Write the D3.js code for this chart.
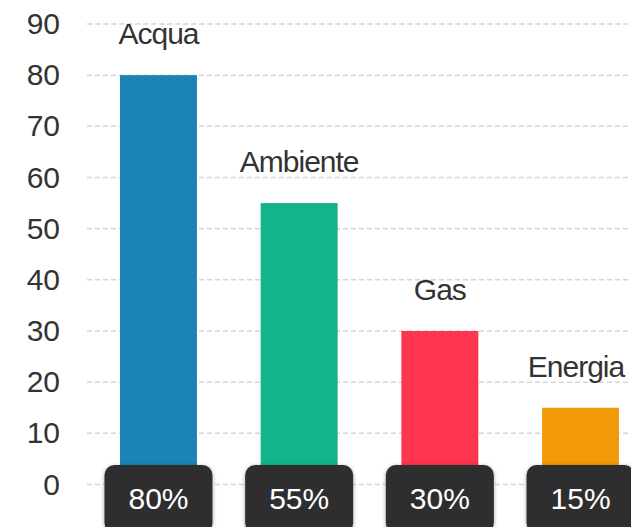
<!DOCTYPE html>
<html>
<head>
<meta charset="utf-8">
<script src="https://cdn.jsdelivr.net/npm/d3@7"></script>
<style>
  html, body { margin: 0; padding: 0; background: #fff; }
  svg { display: block; font-family: "Liberation Sans", Arial, sans-serif; }
</style>
</head>
<body>
<svg width="631" height="527"></svg>
<script>
var categories = ["Acqua", "Ambiente", "Gas", "Energia"];
var values     = [80, 55, 30, 15];
var colors     = ["#1b84b6", "#12b48e", "#ff344f", "#f39a0b"];
var yTicks     = [0, 10, 20, 30, 40, 50, 60, 70, 80, 90];

var svg    = d3.select("svg"),
    width  = 631,
    height = 527,
    x      = d3.scaleBand()
               .domain(categories)
               .range([120, 619])
               .paddingInner(0.453)
               .paddingOuter(0),
    y      = d3.scaleLinear()
               .domain([0, 90])
               .range([484.5, 24]);

var defs = svg.append("defs");
var shadow = defs.append("filter").attr("id", "shadow")
  .attr("x", "-20%").attr("y", "-20%").attr("width", "140%").attr("height", "140%");
shadow.append("feDropShadow")
  .attr("dx", 0).attr("dy", 1).attr("stdDeviation", 2)
  .attr("flood-color", "#000").attr("flood-opacity", 0.35);

// gridlines
svg.append("g")
  .selectAll("line")
  .data(yTicks)
  .enter().append("line")
    .attr("x1", 87)
    .attr("x2", width)
    .attr("y1", d => y(d))
    .attr("y2", d => y(d))
    .attr("stroke", "#d6d6d6")
    .attr("stroke-width", 1.5)
    .attr("stroke-dasharray", "5,3");

// y axis labels
var yAxis = d3.axisLeft(y).tickValues(yTicks).tickSize(0).tickPadding(0);
var gy = svg.append("g")
  .attr("transform", "translate(60,0)")
  .call(yAxis);
gy.select(".domain").remove();
gy.selectAll("text")
  .attr("fill", "#333")
  .style("font-size", "30px")
  .style("font-family", "'Liberation Sans', Arial, sans-serif");

// bars
svg.append("g")
  .selectAll("rect")
  .data(values)
  .enter().append("rect")
    .attr("x", (d, i) => x(categories[i]))
    .attr("y", d => y(d))
    .attr("width", x.bandwidth())
    .attr("height", d => y(0) - y(d))
    .attr("fill", (d, i) => colors[i]);

// category labels above bars
svg.append("g")
  .selectAll("text")
  .data(values)
  .enter().append("text")
    .attr("x", (d, i) => Math.min(x(categories[i]) + x.bandwidth() / 2, 576))
    .attr("y", d => y(d) - 31)
    .attr("text-anchor", "middle")
    .attr("fill", "#333")
    .style("font-size", "30px")
    .style("letter-spacing", "-1px")
    .text((d, i) => categories[i]);

// value badges
var badges = svg.append("g")
  .selectAll("g")
  .data(values)
  .enter().append("g")
    .attr("transform", (d, i) => "translate(" + (x(categories[i]) + x.bandwidth() / 2) + ",0)");

badges.append("rect")
  .attr("x", -54)
  .attr("y", 465)
  .attr("width", 108)
  .attr("height", 68)
  .attr("rx", 10)
  .attr("fill", "#2d2d2d")
  .attr("filter", "url(#shadow)");

badges.append("text")
  .attr("y", 508.5)
  .attr("text-anchor", "middle")
  .attr("fill", "#fff")
  .style("font-size", "30px")
  .text(d => d + "%");
</script>
</body>
</html>
